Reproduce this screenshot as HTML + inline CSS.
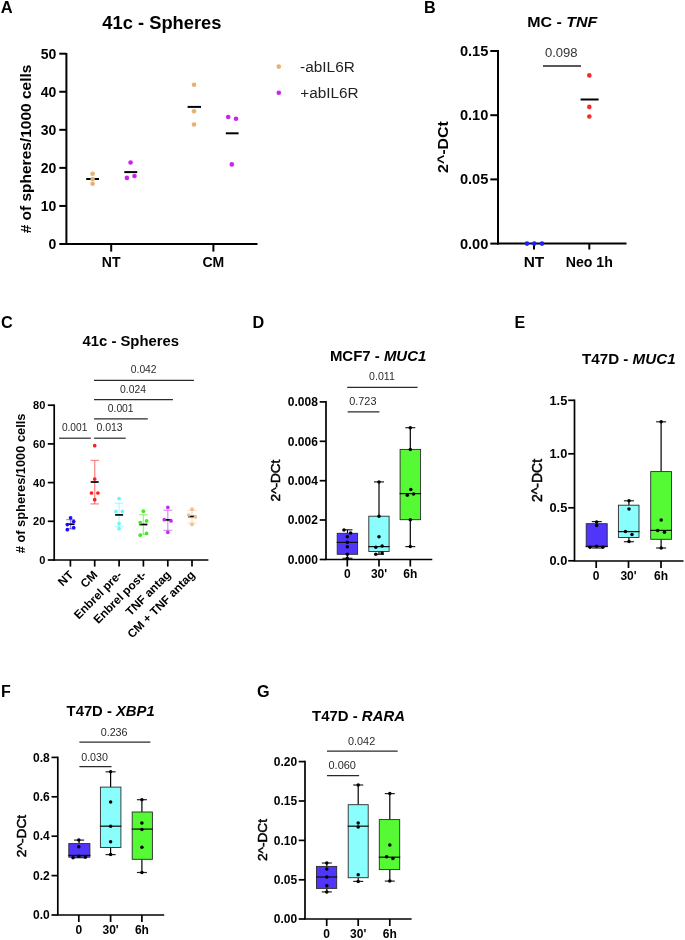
<!DOCTYPE html>
<html><head><meta charset="utf-8"><style>
html,body{margin:0;padding:0;background:#fff;}
body{width:685px;height:940px;overflow:hidden;}
svg{display:block;font-family:"Liberation Sans",sans-serif;will-change:transform;}
</style></head><body>
<svg width="685" height="940" viewBox="0 0 685 940">
<rect width="685" height="940" fill="#fff"/>
<text x="0.7" y="12.6" font-size="16.5" font-weight="bold">A</text>
<text x="102.3" y="29.2" font-size="17.5" font-weight="bold" textLength="119.2" lengthAdjust="spacingAndGlyphs">41c - Spheres</text>
<line x1="66.4" y1="53" x2="66.4" y2="245" stroke="#000" stroke-width="2.0"/>
<line x1="59.3" y1="53.7" x2="66.4" y2="53.7" stroke="#000" stroke-width="2.0"/>
<text x="56.4" y="58.6" font-size="14" font-weight="bold" text-anchor="end">50</text>
<line x1="59.3" y1="91.76" x2="66.4" y2="91.76" stroke="#000" stroke-width="2.0"/>
<text x="56.4" y="96.66" font-size="14" font-weight="bold" text-anchor="end">40</text>
<line x1="59.3" y1="129.82" x2="66.4" y2="129.82" stroke="#000" stroke-width="2.0"/>
<text x="56.4" y="134.72" font-size="14" font-weight="bold" text-anchor="end">30</text>
<line x1="59.3" y1="167.88" x2="66.4" y2="167.88" stroke="#000" stroke-width="2.0"/>
<text x="56.4" y="172.78" font-size="14" font-weight="bold" text-anchor="end">20</text>
<line x1="59.3" y1="205.94" x2="66.4" y2="205.94" stroke="#000" stroke-width="2.0"/>
<text x="56.4" y="210.84" font-size="14" font-weight="bold" text-anchor="end">10</text>
<line x1="59.3" y1="244" x2="66.4" y2="244" stroke="#000" stroke-width="2.0"/>
<text x="56.4" y="248.9" font-size="14" font-weight="bold" text-anchor="end">0</text>
<line x1="65.4" y1="244" x2="257.5" y2="244" stroke="#000" stroke-width="2.0"/>
<line x1="111.2" y1="244" x2="111.2" y2="251.6" stroke="#000" stroke-width="2.0"/>
<text x="111.2" y="267.2" font-size="14" font-weight="bold" text-anchor="middle">NT</text>
<line x1="213.4" y1="244" x2="213.4" y2="251.6" stroke="#000" stroke-width="2.0"/>
<text x="213.4" y="267.2" font-size="14" font-weight="bold" text-anchor="middle">CM</text>
<text x="31.3" y="149" font-size="15.5" font-weight="bold" text-anchor="middle" textLength="168.7" lengthAdjust="spacingAndGlyphs" transform="rotate(-90 31.3 149)"># of spheres/1000 cells</text>
<line x1="86.2" y1="179" x2="99" y2="179" stroke="#000" stroke-width="2"/>
<circle cx="92.6" cy="173.8" r="2.3" fill="#E8B072"/>
<circle cx="92.6" cy="179.1" r="2.3" fill="#E8B072"/>
<circle cx="92.6" cy="183.8" r="2.3" fill="#E8B072"/>
<circle cx="130.6" cy="162.5" r="2.3" fill="#CC22EE"/>
<circle cx="126.9" cy="177.9" r="2.3" fill="#CC22EE"/>
<circle cx="134.5" cy="176" r="2.3" fill="#CC22EE"/>
<line x1="124.3" y1="172.1" x2="137.2" y2="172.1" stroke="#000" stroke-width="2"/>
<line x1="187.6" y1="106.9" x2="201" y2="106.9" stroke="#000" stroke-width="2"/>
<circle cx="194" cy="84.7" r="2.3" fill="#E8B072"/>
<circle cx="194" cy="111.2" r="2.3" fill="#E8B072"/>
<circle cx="194" cy="124.5" r="2.3" fill="#E8B072"/>
<circle cx="228.2" cy="117" r="2.3" fill="#CC22EE"/>
<circle cx="236" cy="118.8" r="2.3" fill="#CC22EE"/>
<circle cx="231.8" cy="164.4" r="2.3" fill="#CC22EE"/>
<line x1="225.8" y1="133.3" x2="238.6" y2="133.3" stroke="#000" stroke-width="2"/>
<circle cx="278.8" cy="66.6" r="2.3" fill="#E8B072"/>
<circle cx="278.8" cy="92.7" r="2.3" fill="#CC22EE"/>
<text x="300.1" y="71.7" font-size="14" fill="#222" textLength="54.7" lengthAdjust="spacingAndGlyphs">-abIL6R</text>
<text x="300.3" y="97.6" font-size="14" fill="#222" textLength="58.4" lengthAdjust="spacingAndGlyphs">+abIL6R</text>
<text x="423.9" y="12.6" font-size="16.2" font-weight="bold">B</text>
<text x="527.2" y="27" font-size="15" font-weight="bold" textLength="70" lengthAdjust="spacingAndGlyphs">MC - <tspan font-style="italic">TNF</tspan></text>
<line x1="498" y1="50" x2="498" y2="244.6" stroke="#000" stroke-width="2.0"/>
<line x1="490.3" y1="51" x2="498" y2="51" stroke="#000" stroke-width="2.0"/>
<text x="488.3" y="56" font-size="14.6" font-weight="bold" text-anchor="end">0.15</text>
<line x1="490.3" y1="115.2" x2="498" y2="115.2" stroke="#000" stroke-width="2.0"/>
<text x="488.3" y="120.2" font-size="14.6" font-weight="bold" text-anchor="end">0.10</text>
<line x1="490.3" y1="179.4" x2="498" y2="179.4" stroke="#000" stroke-width="2.0"/>
<text x="488.3" y="184.4" font-size="14.6" font-weight="bold" text-anchor="end">0.05</text>
<line x1="490.3" y1="243.6" x2="498" y2="243.6" stroke="#000" stroke-width="2.0"/>
<text x="488.3" y="248.6" font-size="14.6" font-weight="bold" text-anchor="end">0.00</text>
<line x1="497" y1="243.6" x2="626.5" y2="243.6" stroke="#000" stroke-width="2.0"/>
<line x1="534" y1="243.6" x2="534" y2="249.5" stroke="#000" stroke-width="2.0"/>
<text x="523.7" y="266.7" font-size="14" font-weight="bold" textLength="20.6" lengthAdjust="spacingAndGlyphs">NT</text>
<line x1="589.3" y1="243.6" x2="589.3" y2="249.5" stroke="#000" stroke-width="2.0"/>
<text x="565.7" y="266.7" font-size="14" font-weight="bold" textLength="47.2" lengthAdjust="spacingAndGlyphs">Neo 1h</text>
<text x="448.3" y="147" font-size="15.5" font-weight="bold" text-anchor="middle" textLength="51.9" lengthAdjust="spacingAndGlyphs" transform="rotate(-90 448.3 147)">2^-DCt</text>
<circle cx="527" cy="243.6" r="2.3" fill="#2020F5"/>
<circle cx="534.3" cy="243.6" r="2.3" fill="#2020F5"/>
<circle cx="542" cy="243.6" r="2.3" fill="#2020F5"/>
<circle cx="589.3" cy="75.4" r="2.3" fill="#FA2A2A"/>
<circle cx="589.3" cy="106.9" r="2.3" fill="#FA2A2A"/>
<circle cx="589.3" cy="116.5" r="2.3" fill="#FA2A2A"/>
<line x1="580.6" y1="99.5" x2="598.6" y2="99.5" stroke="#000" stroke-width="2"/>
<line x1="543" y1="66" x2="581" y2="66" stroke="#222" stroke-width="1.3"/>
<text x="544.9" y="57.2" font-size="13" fill="#333" textLength="32.7" lengthAdjust="spacingAndGlyphs">0.098</text>
<text x="0.9" y="327.5" font-size="16.2" font-weight="bold">C</text>
<text x="82.5" y="345.9" font-size="14.5" font-weight="bold" textLength="96.5" lengthAdjust="spacingAndGlyphs">41c - Spheres</text>
<line x1="54.2" y1="404.4" x2="54.2" y2="560.8" stroke="#000" stroke-width="1.7"/>
<line x1="47.8" y1="405.2" x2="54.1" y2="405.2" stroke="#000" stroke-width="1.7"/>
<text x="45.3" y="409.1" font-size="11" font-weight="bold" text-anchor="end">80</text>
<line x1="47.8" y1="443.9" x2="54.1" y2="443.9" stroke="#000" stroke-width="1.7"/>
<text x="45.3" y="447.8" font-size="11" font-weight="bold" text-anchor="end">60</text>
<line x1="47.8" y1="482.6" x2="54.1" y2="482.6" stroke="#000" stroke-width="1.7"/>
<text x="45.3" y="486.5" font-size="11" font-weight="bold" text-anchor="end">40</text>
<line x1="47.8" y1="521.3" x2="54.1" y2="521.3" stroke="#000" stroke-width="1.7"/>
<text x="45.3" y="525.2" font-size="11" font-weight="bold" text-anchor="end">20</text>
<line x1="47.8" y1="560" x2="54.1" y2="560" stroke="#000" stroke-width="1.7"/>
<text x="45.3" y="563.9" font-size="11" font-weight="bold" text-anchor="end">0</text>
<line x1="53.4" y1="560" x2="208.4" y2="560" stroke="#000" stroke-width="1.7"/>
<line x1="70.4" y1="560" x2="70.4" y2="566.6" stroke="#000" stroke-width="1.7"/>
<text x="74" y="575.6" font-size="11.8" font-weight="bold" text-anchor="end" transform="rotate(-45 74 575.6)">NT</text>
<line x1="94.7" y1="560" x2="94.7" y2="566.6" stroke="#000" stroke-width="1.7"/>
<text x="98.3" y="575.6" font-size="11.8" font-weight="bold" text-anchor="end" transform="rotate(-45 98.3 575.6)">CM</text>
<line x1="119.1" y1="560" x2="119.1" y2="566.6" stroke="#000" stroke-width="1.7"/>
<text x="122.7" y="575.6" font-size="11.8" font-weight="bold" text-anchor="end" transform="rotate(-45 122.7 575.6)">Enbrel pre-</text>
<line x1="143.4" y1="560" x2="143.4" y2="566.6" stroke="#000" stroke-width="1.7"/>
<text x="147" y="575.6" font-size="11.8" font-weight="bold" text-anchor="end" transform="rotate(-45 147 575.6)">Enbrel post-</text>
<line x1="167.8" y1="560" x2="167.8" y2="566.6" stroke="#000" stroke-width="1.7"/>
<text x="171.4" y="575.6" font-size="11.8" font-weight="bold" text-anchor="end" transform="rotate(-45 171.4 575.6)">TNF antag</text>
<line x1="192" y1="560" x2="192" y2="566.6" stroke="#000" stroke-width="1.7"/>
<text x="195.6" y="575.6" font-size="11.8" font-weight="bold" text-anchor="end" transform="rotate(-45 195.6 575.6)">CM + TNF antag</text>
<text x="25" y="483.4" font-size="12.8" font-weight="bold" text-anchor="middle" textLength="139.7" lengthAdjust="spacingAndGlyphs" transform="rotate(-90 25 483.4)"># of spheres/1000 cells</text>
<text x="130.8" y="373.1" font-size="10.3" fill="#2a2a2a" textLength="25.8" lengthAdjust="spacingAndGlyphs">0.042</text>
<line x1="94" y1="380.4" x2="193.9" y2="380.4" stroke="#2a2a2a" stroke-width="1.2"/>
<text x="120" y="392.5" font-size="10.3" fill="#2a2a2a" textLength="25.9" lengthAdjust="spacingAndGlyphs">0.024</text>
<line x1="94" y1="399.7" x2="172.9" y2="399.7" stroke="#2a2a2a" stroke-width="1.2"/>
<text x="107.8" y="411.9" font-size="10.3" fill="#2a2a2a" textLength="25.8" lengthAdjust="spacingAndGlyphs">0.001</text>
<line x1="94.1" y1="418.9" x2="147.8" y2="418.9" stroke="#2a2a2a" stroke-width="1.2"/>
<text x="61.9" y="431.2" font-size="10.3" fill="#2a2a2a" textLength="25.4" lengthAdjust="spacingAndGlyphs">0.001</text>
<line x1="59.1" y1="438.2" x2="90.8" y2="438.2" stroke="#2a2a2a" stroke-width="1.2"/>
<text x="96.4" y="431.2" font-size="10.3" fill="#2a2a2a" textLength="26.3" lengthAdjust="spacingAndGlyphs">0.013</text>
<line x1="94.1" y1="438.2" x2="125.7" y2="438.2" stroke="#2a2a2a" stroke-width="1.2"/>
<line x1="70.6" y1="519.6" x2="70.6" y2="528.8" stroke="#1E10F5" stroke-width="1.3" stroke-opacity="0.5"/>
<line x1="66.3" y1="519.6" x2="74.9" y2="519.6" stroke="#1E10F5" stroke-width="1.3" stroke-opacity="0.5"/>
<line x1="66.3" y1="528.8" x2="74.9" y2="528.8" stroke="#1E10F5" stroke-width="1.3" stroke-opacity="0.5"/>
<line x1="66.6" y1="524.2" x2="74.6" y2="524.2" stroke="#000" stroke-width="1.7"/>
<circle cx="70.6" cy="517.8" r="1.85" fill="#1E10F5"/>
<circle cx="73.7" cy="521.5" r="1.85" fill="#1E10F5"/>
<circle cx="67.3" cy="524.6" r="1.85" fill="#1E10F5"/>
<circle cx="73.7" cy="527.7" r="1.85" fill="#1E10F5"/>
<circle cx="67.3" cy="529.7" r="1.85" fill="#1E10F5"/>
<line x1="94.7" y1="460.4" x2="94.7" y2="503.9" stroke="#FA1E1E" stroke-width="1.3" stroke-opacity="0.5"/>
<line x1="90.4" y1="460.4" x2="99" y2="460.4" stroke="#FA1E1E" stroke-width="1.3" stroke-opacity="0.5"/>
<line x1="90.4" y1="503.9" x2="99" y2="503.9" stroke="#FA1E1E" stroke-width="1.3" stroke-opacity="0.5"/>
<line x1="90.7" y1="482" x2="98.7" y2="482" stroke="#000" stroke-width="1.7"/>
<circle cx="94.7" cy="445.7" r="1.85" fill="#FA1E1E"/>
<circle cx="94.7" cy="479" r="1.85" fill="#FA1E1E"/>
<circle cx="91.5" cy="493" r="1.85" fill="#FA1E1E"/>
<circle cx="97.9" cy="493" r="1.85" fill="#FA1E1E"/>
<circle cx="94.7" cy="499.7" r="1.85" fill="#FA1E1E"/>
<line x1="119.1" y1="503.2" x2="119.1" y2="526.6" stroke="#6EF5F5" stroke-width="1.3" stroke-opacity="0.5"/>
<line x1="114.8" y1="503.2" x2="123.4" y2="503.2" stroke="#6EF5F5" stroke-width="1.3" stroke-opacity="0.5"/>
<line x1="114.8" y1="526.6" x2="123.4" y2="526.6" stroke="#6EF5F5" stroke-width="1.3" stroke-opacity="0.5"/>
<line x1="115.1" y1="514.9" x2="123.1" y2="514.9" stroke="#000" stroke-width="1.7"/>
<circle cx="119.1" cy="498.6" r="1.85" fill="#6EF5F5"/>
<circle cx="116" cy="511.4" r="1.85" fill="#6EF5F5"/>
<circle cx="122.4" cy="511.4" r="1.85" fill="#6EF5F5"/>
<circle cx="119.1" cy="523.7" r="1.85" fill="#6EF5F5"/>
<circle cx="119.1" cy="528.7" r="1.85" fill="#6EF5F5"/>
<line x1="143.4" y1="514.7" x2="143.4" y2="534.3" stroke="#3AEE1A" stroke-width="1.3" stroke-opacity="0.5"/>
<line x1="139.1" y1="514.7" x2="147.7" y2="514.7" stroke="#3AEE1A" stroke-width="1.3" stroke-opacity="0.5"/>
<line x1="139.1" y1="534.3" x2="147.7" y2="534.3" stroke="#3AEE1A" stroke-width="1.3" stroke-opacity="0.5"/>
<line x1="139.4" y1="524.5" x2="147.4" y2="524.5" stroke="#000" stroke-width="1.7"/>
<circle cx="143.4" cy="511.2" r="1.85" fill="#3AEE1A"/>
<circle cx="140.2" cy="522.6" r="1.85" fill="#3AEE1A"/>
<circle cx="146.6" cy="520.9" r="1.85" fill="#3AEE1A"/>
<circle cx="140.2" cy="535.2" r="1.85" fill="#3AEE1A"/>
<circle cx="146.6" cy="533.4" r="1.85" fill="#3AEE1A"/>
<line x1="167.8" y1="510.2" x2="167.8" y2="530.4" stroke="#C22EF2" stroke-width="1.3" stroke-opacity="0.5"/>
<line x1="163.5" y1="510.2" x2="172.1" y2="510.2" stroke="#C22EF2" stroke-width="1.3" stroke-opacity="0.5"/>
<line x1="163.5" y1="530.4" x2="172.1" y2="530.4" stroke="#C22EF2" stroke-width="1.3" stroke-opacity="0.5"/>
<line x1="163.8" y1="519.9" x2="171.8" y2="519.9" stroke="#000" stroke-width="1.7"/>
<circle cx="167.8" cy="507.3" r="1.85" fill="#C22EF2"/>
<circle cx="164.3" cy="519.7" r="1.85" fill="#C22EF2"/>
<circle cx="171" cy="520.9" r="1.85" fill="#C22EF2"/>
<circle cx="167.8" cy="532.3" r="1.85" fill="#C22EF2"/>
<line x1="192" y1="510.4" x2="192" y2="523.1" stroke="#F0C088" stroke-width="1.3" stroke-opacity="0.5"/>
<line x1="187.7" y1="510.4" x2="196.3" y2="510.4" stroke="#F0C088" stroke-width="1.3" stroke-opacity="0.5"/>
<line x1="187.7" y1="523.1" x2="196.3" y2="523.1" stroke="#F0C088" stroke-width="1.3" stroke-opacity="0.5"/>
<line x1="188" y1="516.5" x2="196" y2="516.5" stroke="#000" stroke-width="1.7"/>
<circle cx="192" cy="509.2" r="1.85" fill="#F0C088"/>
<circle cx="188.8" cy="515" r="1.85" fill="#F0C088"/>
<circle cx="195.4" cy="517" r="1.85" fill="#F0C088"/>
<circle cx="192" cy="524.5" r="1.85" fill="#F0C088"/>
<text x="252.5" y="328" font-size="16.2" font-weight="bold">D</text>
<text x="329.9" y="361" font-size="14.5" font-weight="bold" textLength="96.4" lengthAdjust="spacingAndGlyphs">MCF7 - <tspan font-style="italic">MUC1</tspan></text>
<text x="369.1" y="380.3" font-size="10.3" fill="#2a2a2a" textLength="25.7" lengthAdjust="spacingAndGlyphs">0.011</text>
<line x1="347.2" y1="387.3" x2="417.6" y2="387.3" stroke="#2a2a2a" stroke-width="1.2"/>
<text x="349.2" y="404.7" font-size="10.3" fill="#2a2a2a" textLength="27.3" lengthAdjust="spacingAndGlyphs">0.723</text>
<line x1="347.6" y1="411.8" x2="379.4" y2="411.8" stroke="#2a2a2a" stroke-width="1.2"/>
<line x1="326" y1="401.1" x2="326" y2="559.7" stroke="#000" stroke-width="1.7"/>
<line x1="319.7" y1="401.9" x2="326" y2="401.9" stroke="#000" stroke-width="1.7"/>
<text x="317.9" y="406.1" font-size="12" font-weight="bold" text-anchor="end">0.008</text>
<line x1="319.7" y1="441.3" x2="326" y2="441.3" stroke="#000" stroke-width="1.7"/>
<text x="317.9" y="445.5" font-size="12" font-weight="bold" text-anchor="end">0.006</text>
<line x1="319.7" y1="480.7" x2="326" y2="480.7" stroke="#000" stroke-width="1.7"/>
<text x="317.9" y="484.9" font-size="12" font-weight="bold" text-anchor="end">0.004</text>
<line x1="319.7" y1="520" x2="326" y2="520" stroke="#000" stroke-width="1.7"/>
<text x="317.9" y="524.2" font-size="12" font-weight="bold" text-anchor="end">0.002</text>
<line x1="319.7" y1="559.5" x2="326" y2="559.5" stroke="#000" stroke-width="1.7"/>
<text x="317.9" y="563.7" font-size="12" font-weight="bold" text-anchor="end">0.000</text>
<line x1="325.2" y1="559.5" x2="432.3" y2="559.5" stroke="#000" stroke-width="1.7"/>
<line x1="347.3" y1="559.5" x2="347.3" y2="566.5" stroke="#000" stroke-width="1.7"/>
<text x="347.3" y="578.4" font-size="12" font-weight="bold" text-anchor="middle">0</text>
<line x1="379" y1="559.5" x2="379" y2="566.5" stroke="#000" stroke-width="1.7"/>
<text x="379" y="578.4" font-size="12" font-weight="bold" text-anchor="middle">30'</text>
<line x1="410.3" y1="559.5" x2="410.3" y2="566.5" stroke="#000" stroke-width="1.7"/>
<text x="410.3" y="578.4" font-size="12" font-weight="bold" text-anchor="middle">6h</text>
<text x="280.1" y="480.5" font-size="13.5" text-anchor="middle" textLength="41.8" lengthAdjust="spacingAndGlyphs" transform="rotate(-90 280.1 480.5)" stroke="#000" stroke-width="0.5">2^-DCt</text>
<line x1="347.5" y1="529.8" x2="347.5" y2="533.3" stroke="#000" stroke-width="1.2"/>
<line x1="347.5" y1="554.3" x2="347.5" y2="558.3" stroke="#000" stroke-width="1.2"/>
<line x1="342.5" y1="529.8" x2="352.5" y2="529.8" stroke="#222" stroke-width="1.2"/>
<line x1="342.5" y1="558.3" x2="352.5" y2="558.3" stroke="#222" stroke-width="1.2"/>
<rect x="337.2" y="533.3" width="20.4" height="21" fill="#5035FA" stroke="#2a2a2a" stroke-width="0.9"/>
<line x1="336.7" y1="542.4" x2="358.1" y2="542.4" stroke="#111" stroke-width="1.25"/>
<circle cx="344.0" cy="530.0" r="1.75" fill="#000"/>
<circle cx="350.6" cy="532.9" r="1.75" fill="#000"/>
<circle cx="347.3" cy="536.8" r="1.75" fill="#000"/>
<circle cx="347.3" cy="542.2" r="1.75" fill="#000"/>
<circle cx="347.3" cy="546.8" r="1.75" fill="#000"/>
<circle cx="347.3" cy="554.3" r="1.75" fill="#000"/>
<circle cx="347.3" cy="558.3" r="1.75" fill="#000"/>
<line x1="379" y1="481.9" x2="379" y2="516.2" stroke="#000" stroke-width="1.2"/>
<line x1="379" y1="551.5" x2="379" y2="554.3" stroke="#000" stroke-width="1.2"/>
<line x1="374" y1="481.9" x2="384" y2="481.9" stroke="#222" stroke-width="1.2"/>
<line x1="374" y1="554.3" x2="384" y2="554.3" stroke="#222" stroke-width="1.2"/>
<rect x="368.8" y="516.2" width="20.3" height="35.3" fill="#8AFDFD" stroke="#2a2a2a" stroke-width="0.9"/>
<line x1="368.3" y1="546.6" x2="389.6" y2="546.6" stroke="#111" stroke-width="1.25"/>
<circle cx="379" cy="481.9" r="1.75" fill="#000"/>
<circle cx="379" cy="516.2" r="1.75" fill="#000"/>
<circle cx="379" cy="536.8" r="1.75" fill="#000"/>
<circle cx="375.8" cy="547.3" r="1.75" fill="#000"/>
<circle cx="382.1" cy="546.1" r="1.75" fill="#000"/>
<circle cx="375.8" cy="554.3" r="1.75" fill="#000"/>
<circle cx="382.1" cy="553.1" r="1.75" fill="#000"/>
<line x1="410.3" y1="427.7" x2="410.3" y2="449.4" stroke="#000" stroke-width="1.2"/>
<line x1="410.3" y1="519.7" x2="410.3" y2="546.6" stroke="#000" stroke-width="1.2"/>
<line x1="405.3" y1="427.7" x2="415.3" y2="427.7" stroke="#222" stroke-width="1.2"/>
<line x1="405.3" y1="546.6" x2="415.3" y2="546.6" stroke="#222" stroke-width="1.2"/>
<rect x="400.1" y="449.4" width="20.5" height="70.3" fill="#55FA35" stroke="#2a2a2a" stroke-width="0.9"/>
<line x1="399.6" y1="493.6" x2="421.1" y2="493.6" stroke="#111" stroke-width="1.25"/>
<circle cx="410.3" cy="427.7" r="1.75" fill="#000"/>
<circle cx="410.3" cy="449.4" r="1.75" fill="#000"/>
<circle cx="410.8" cy="489.6" r="1.75" fill="#000"/>
<circle cx="407.3" cy="495.2" r="1.75" fill="#000"/>
<circle cx="413.6" cy="494" r="1.75" fill="#000"/>
<circle cx="410.3" cy="519.7" r="1.75" fill="#000"/>
<circle cx="410.3" cy="546.6" r="1.75" fill="#000"/>
<text x="514.6" y="327.6" font-size="16" font-weight="bold">E</text>
<text x="582" y="364.3" font-size="14.5" font-weight="bold" textLength="93.6" lengthAdjust="spacingAndGlyphs">T47D - <tspan font-style="italic">MUC1</tspan></text>
<line x1="574.5" y1="399.5" x2="574.5" y2="561" stroke="#000" stroke-width="1.7"/>
<line x1="568.2" y1="400.3" x2="574.5" y2="400.3" stroke="#000" stroke-width="1.7"/>
<text x="567.3" y="404.78" font-size="12.8" font-weight="bold" text-anchor="end">1.5</text>
<line x1="568.2" y1="453.8" x2="574.5" y2="453.8" stroke="#000" stroke-width="1.7"/>
<text x="567.3" y="458.28" font-size="12.8" font-weight="bold" text-anchor="end">1.0</text>
<line x1="568.2" y1="507.8" x2="574.5" y2="507.8" stroke="#000" stroke-width="1.7"/>
<text x="567.3" y="512.28" font-size="12.8" font-weight="bold" text-anchor="end">0.5</text>
<line x1="568.2" y1="560.8" x2="574.5" y2="560.8" stroke="#000" stroke-width="1.7"/>
<text x="567.3" y="565.28" font-size="12.8" font-weight="bold" text-anchor="end">0.0</text>
<line x1="573.7" y1="561" x2="683.5" y2="561" stroke="#000" stroke-width="1.7"/>
<line x1="596.2" y1="561" x2="596.2" y2="568" stroke="#000" stroke-width="1.7"/>
<text x="596.2" y="579.8" font-size="12" font-weight="bold" text-anchor="middle">0</text>
<line x1="628.5" y1="561" x2="628.5" y2="568" stroke="#000" stroke-width="1.7"/>
<text x="628.5" y="579.8" font-size="12" font-weight="bold" text-anchor="middle">30'</text>
<line x1="661" y1="561" x2="661" y2="568" stroke="#000" stroke-width="1.7"/>
<text x="661" y="579.8" font-size="12" font-weight="bold" text-anchor="middle">6h</text>
<text x="541.8" y="480.5" font-size="14" text-anchor="middle" textLength="43.1" lengthAdjust="spacingAndGlyphs" transform="rotate(-90 541.8 480.5)" stroke="#000" stroke-width="0.5">2^-DCt</text>
<line x1="596.8" y1="521.6" x2="596.8" y2="523.7" stroke="#000" stroke-width="1.2"/>
<line x1="596.8" y1="546.8" x2="596.8" y2="548" stroke="#000" stroke-width="1.2"/>
<line x1="591.8" y1="521.6" x2="601.8" y2="521.6" stroke="#222" stroke-width="1.2"/>
<line x1="591.8" y1="548" x2="601.8" y2="548" stroke="#222" stroke-width="1.2"/>
<rect x="586.2" y="523.7" width="21" height="23.1" fill="#5035FA" stroke="#2a2a2a" stroke-width="0.9"/>
<line x1="585.7" y1="546.3" x2="607.7" y2="546.3" stroke="#111" stroke-width="1.25"/>
<circle cx="596.6" cy="522" r="1.75" fill="#000"/>
<circle cx="596.6" cy="525.4" r="1.75" fill="#000"/>
<circle cx="590" cy="547.2" r="1.75" fill="#000"/>
<circle cx="596.6" cy="546.2" r="1.75" fill="#000"/>
<circle cx="602.8" cy="547.2" r="1.75" fill="#000"/>
<line x1="628.9" y1="500.8" x2="628.9" y2="505.2" stroke="#000" stroke-width="1.2"/>
<line x1="628.9" y1="537.5" x2="628.9" y2="541.7" stroke="#000" stroke-width="1.2"/>
<line x1="623.9" y1="500.8" x2="633.9" y2="500.8" stroke="#222" stroke-width="1.2"/>
<line x1="623.9" y1="541.7" x2="633.9" y2="541.7" stroke="#222" stroke-width="1.2"/>
<rect x="618.4" y="505.2" width="20.6" height="32.3" fill="#8AFDFD" stroke="#2a2a2a" stroke-width="0.9"/>
<line x1="617.9" y1="531.6" x2="639.5" y2="531.6" stroke="#111" stroke-width="1.25"/>
<circle cx="629" cy="500.8" r="1.75" fill="#000"/>
<circle cx="629" cy="509" r="1.75" fill="#000"/>
<circle cx="625.5" cy="531.5" r="1.75" fill="#000"/>
<circle cx="632" cy="534.4" r="1.75" fill="#000"/>
<circle cx="629" cy="541.6" r="1.75" fill="#000"/>
<line x1="661.1" y1="421.8" x2="661.1" y2="471.6" stroke="#000" stroke-width="1.2"/>
<line x1="661.1" y1="539.3" x2="661.1" y2="548" stroke="#000" stroke-width="1.2"/>
<line x1="656.1" y1="421.8" x2="666.1" y2="421.8" stroke="#222" stroke-width="1.2"/>
<line x1="656.1" y1="548" x2="666.1" y2="548" stroke="#222" stroke-width="1.2"/>
<rect x="650.7" y="471.6" width="20.8" height="67.7" fill="#55FA35" stroke="#2a2a2a" stroke-width="0.9"/>
<line x1="650.2" y1="530.4" x2="672" y2="530.4" stroke="#111" stroke-width="1.25"/>
<circle cx="661.2" cy="421.8" r="1.75" fill="#000"/>
<circle cx="661.2" cy="519.9" r="1.75" fill="#000"/>
<circle cx="657.7" cy="530.4" r="1.75" fill="#000"/>
<circle cx="664.5" cy="532.3" r="1.75" fill="#000"/>
<circle cx="661.2" cy="548" r="1.75" fill="#000"/>
<text x="0.9" y="696.9" font-size="16" font-weight="bold">F</text>
<text x="66.6" y="716.1" font-size="14.5" font-weight="bold" textLength="88.1" lengthAdjust="spacingAndGlyphs">T47D - <tspan font-style="italic">XBP1</tspan></text>
<text x="100.7" y="735.7" font-size="10.3" fill="#2a2a2a" textLength="26.9" lengthAdjust="spacingAndGlyphs">0.236</text>
<line x1="79.4" y1="742.1" x2="150.4" y2="742.1" stroke="#2a2a2a" stroke-width="1.2"/>
<text x="81.2" y="760.5" font-size="10.3" fill="#2a2a2a" textLength="26.8" lengthAdjust="spacingAndGlyphs">0.030</text>
<line x1="79.4" y1="766.6" x2="111.5" y2="766.6" stroke="#2a2a2a" stroke-width="1.2"/>
<line x1="57.8" y1="756.6" x2="57.8" y2="915.2" stroke="#000" stroke-width="1.7"/>
<line x1="51.5" y1="757.4" x2="57.8" y2="757.4" stroke="#000" stroke-width="1.7"/>
<text x="49.8" y="761.6" font-size="12" font-weight="bold" text-anchor="end">0.8</text>
<line x1="51.5" y1="796.8" x2="57.8" y2="796.8" stroke="#000" stroke-width="1.7"/>
<text x="49.8" y="801" font-size="12" font-weight="bold" text-anchor="end">0.6</text>
<line x1="51.5" y1="836.2" x2="57.8" y2="836.2" stroke="#000" stroke-width="1.7"/>
<text x="49.8" y="840.4" font-size="12" font-weight="bold" text-anchor="end">0.4</text>
<line x1="51.5" y1="875.6" x2="57.8" y2="875.6" stroke="#000" stroke-width="1.7"/>
<text x="49.8" y="879.8" font-size="12" font-weight="bold" text-anchor="end">0.2</text>
<line x1="51.5" y1="915" x2="57.8" y2="915" stroke="#000" stroke-width="1.7"/>
<text x="49.8" y="919.2" font-size="12" font-weight="bold" text-anchor="end">0.0</text>
<line x1="57" y1="915" x2="164.2" y2="915" stroke="#000" stroke-width="1.7"/>
<line x1="78.8" y1="915" x2="78.8" y2="922" stroke="#000" stroke-width="1.7"/>
<text x="78.8" y="934" font-size="12" font-weight="bold" text-anchor="middle">0</text>
<line x1="110.6" y1="915" x2="110.6" y2="922" stroke="#000" stroke-width="1.7"/>
<text x="110.6" y="934" font-size="12" font-weight="bold" text-anchor="middle">30'</text>
<line x1="141.9" y1="915" x2="141.9" y2="922" stroke="#000" stroke-width="1.7"/>
<text x="141.9" y="934" font-size="12" font-weight="bold" text-anchor="middle">6h</text>
<text x="25.6" y="836" font-size="13.5" text-anchor="middle" textLength="42.4" lengthAdjust="spacingAndGlyphs" transform="rotate(-90 25.6 836)" stroke="#000" stroke-width="0.5">2^-DCt</text>
<line x1="79.1" y1="840.1" x2="79.1" y2="843.6" stroke="#000" stroke-width="1.2"/>
<line x1="79.1" y1="857.2" x2="79.1" y2="857.7" stroke="#000" stroke-width="1.2"/>
<line x1="74.1" y1="840.1" x2="84.1" y2="840.1" stroke="#222" stroke-width="1.2"/>
<line x1="74.1" y1="857.7" x2="84.1" y2="857.7" stroke="#222" stroke-width="1.2"/>
<rect x="68.8" y="843.6" width="21.1" height="13.6" fill="#5035FA" stroke="#2a2a2a" stroke-width="0.9"/>
<line x1="68.3" y1="855.4" x2="90.4" y2="855.4" stroke="#111" stroke-width="1.25"/>
<circle cx="78.8" cy="840.1" r="1.75" fill="#000"/>
<circle cx="78.8" cy="846.7" r="1.75" fill="#000"/>
<circle cx="73" cy="857.7" r="1.75" fill="#000"/>
<circle cx="78.8" cy="856.2" r="1.75" fill="#000"/>
<circle cx="85.4" cy="857.2" r="1.75" fill="#000"/>
<line x1="110.6" y1="771.8" x2="110.6" y2="787.1" stroke="#000" stroke-width="1.2"/>
<line x1="110.6" y1="847.5" x2="110.6" y2="854.6" stroke="#000" stroke-width="1.2"/>
<line x1="105.6" y1="771.8" x2="115.6" y2="771.8" stroke="#222" stroke-width="1.2"/>
<line x1="105.6" y1="854.6" x2="115.6" y2="854.6" stroke="#222" stroke-width="1.2"/>
<rect x="100.4" y="787.1" width="20.5" height="60.4" fill="#8AFDFD" stroke="#2a2a2a" stroke-width="0.9"/>
<line x1="99.9" y1="826.2" x2="121.4" y2="826.2" stroke="#111" stroke-width="1.25"/>
<circle cx="110.6" cy="771.8" r="1.75" fill="#000"/>
<circle cx="110.6" cy="802" r="1.75" fill="#000"/>
<circle cx="110.6" cy="826.2" r="1.75" fill="#000"/>
<circle cx="110.6" cy="841.7" r="1.75" fill="#000"/>
<circle cx="110.6" cy="854.6" r="1.75" fill="#000"/>
<line x1="141.9" y1="799.7" x2="141.9" y2="812" stroke="#000" stroke-width="1.2"/>
<line x1="141.9" y1="859.3" x2="141.9" y2="872.5" stroke="#000" stroke-width="1.2"/>
<line x1="136.9" y1="799.7" x2="146.9" y2="799.7" stroke="#222" stroke-width="1.2"/>
<line x1="136.9" y1="872.5" x2="146.9" y2="872.5" stroke="#222" stroke-width="1.2"/>
<rect x="132.2" y="812" width="20.2" height="47.3" fill="#55FA35" stroke="#2a2a2a" stroke-width="0.9"/>
<line x1="131.7" y1="829.1" x2="152.9" y2="829.1" stroke="#111" stroke-width="1.25"/>
<circle cx="141.9" cy="799.7" r="1.75" fill="#000"/>
<circle cx="141.9" cy="823.1" r="1.75" fill="#000"/>
<circle cx="141.9" cy="829.4" r="1.75" fill="#000"/>
<circle cx="141.9" cy="847.2" r="1.75" fill="#000"/>
<circle cx="141.9" cy="872.5" r="1.75" fill="#000"/>
<text x="257" y="697.4" font-size="16.2" font-weight="bold">G</text>
<text x="312.1" y="720.5" font-size="14.5" font-weight="bold" textLength="92.9" lengthAdjust="spacingAndGlyphs">T47D - <tspan font-style="italic">RARA</tspan></text>
<text x="348" y="744.5" font-size="10.3" fill="#2a2a2a" textLength="27.2" lengthAdjust="spacingAndGlyphs">0.042</text>
<line x1="327" y1="751.2" x2="397.7" y2="751.2" stroke="#2a2a2a" stroke-width="1.2"/>
<text x="328.5" y="769.3" font-size="10.3" fill="#2a2a2a" textLength="27.4" lengthAdjust="spacingAndGlyphs">0.060</text>
<line x1="327" y1="775.7" x2="359.1" y2="775.7" stroke="#2a2a2a" stroke-width="1.2"/>
<line x1="305" y1="760.8" x2="305" y2="919.2" stroke="#000" stroke-width="1.7"/>
<line x1="298.7" y1="761.6" x2="305" y2="761.6" stroke="#000" stroke-width="1.7"/>
<text x="297.1" y="765.8" font-size="12" font-weight="bold" text-anchor="end">0.20</text>
<line x1="298.7" y1="801" x2="305" y2="801" stroke="#000" stroke-width="1.7"/>
<text x="297.1" y="805.2" font-size="12" font-weight="bold" text-anchor="end">0.15</text>
<line x1="298.7" y1="840.4" x2="305" y2="840.4" stroke="#000" stroke-width="1.7"/>
<text x="297.1" y="844.6" font-size="12" font-weight="bold" text-anchor="end">0.10</text>
<line x1="298.7" y1="879.8" x2="305" y2="879.8" stroke="#000" stroke-width="1.7"/>
<text x="297.1" y="884" font-size="12" font-weight="bold" text-anchor="end">0.05</text>
<line x1="298.7" y1="919" x2="305" y2="919" stroke="#000" stroke-width="1.7"/>
<text x="297.1" y="923.2" font-size="12" font-weight="bold" text-anchor="end">0.00</text>
<line x1="304.2" y1="919" x2="411.6" y2="919" stroke="#000" stroke-width="1.7"/>
<line x1="326.7" y1="919" x2="326.7" y2="926" stroke="#000" stroke-width="1.7"/>
<text x="326.7" y="938" font-size="12" font-weight="bold" text-anchor="middle">0</text>
<line x1="358.2" y1="919" x2="358.2" y2="926" stroke="#000" stroke-width="1.7"/>
<text x="358.2" y="938" font-size="12" font-weight="bold" text-anchor="middle">30'</text>
<line x1="389.8" y1="919" x2="389.8" y2="926" stroke="#000" stroke-width="1.7"/>
<text x="389.8" y="938" font-size="12" font-weight="bold" text-anchor="middle">6h</text>
<text x="266.7" y="840" font-size="13.5" text-anchor="middle" textLength="42.1" lengthAdjust="spacingAndGlyphs" transform="rotate(-90 266.7 840)" stroke="#000" stroke-width="0.5">2^-DCt</text>
<line x1="326.8" y1="863" x2="326.8" y2="866.4" stroke="#000" stroke-width="1.2"/>
<line x1="326.8" y1="888.4" x2="326.8" y2="891.9" stroke="#000" stroke-width="1.2"/>
<line x1="321.8" y1="863" x2="331.8" y2="863" stroke="#222" stroke-width="1.2"/>
<line x1="321.8" y1="891.9" x2="331.8" y2="891.9" stroke="#222" stroke-width="1.2"/>
<rect x="316.5" y="866.4" width="20.2" height="22" fill="#5035FA" stroke="#2a2a2a" stroke-width="0.9"/>
<line x1="316" y1="877" x2="337.2" y2="877" stroke="#111" stroke-width="1.25"/>
<circle cx="326.8" cy="863" r="1.75" fill="#000"/>
<circle cx="326.8" cy="869.0" r="1.75" fill="#000"/>
<circle cx="326.8" cy="877.0" r="1.75" fill="#000"/>
<circle cx="326.8" cy="885.7" r="1.75" fill="#000"/>
<circle cx="326.8" cy="891.9" r="1.75" fill="#000"/>
<line x1="358.2" y1="785" x2="358.2" y2="804.7" stroke="#000" stroke-width="1.2"/>
<line x1="358.2" y1="877.7" x2="358.2" y2="881.4" stroke="#000" stroke-width="1.2"/>
<line x1="353.2" y1="785" x2="363.2" y2="785" stroke="#222" stroke-width="1.2"/>
<line x1="353.2" y1="881.4" x2="363.2" y2="881.4" stroke="#222" stroke-width="1.2"/>
<rect x="348.2" y="804.7" width="20" height="73" fill="#8AFDFD" stroke="#2a2a2a" stroke-width="0.9"/>
<line x1="347.7" y1="826.2" x2="368.7" y2="826.2" stroke="#111" stroke-width="1.25"/>
<circle cx="358.2" cy="785" r="1.75" fill="#000"/>
<circle cx="358.2" cy="823.1" r="1.75" fill="#000"/>
<circle cx="358.2" cy="827" r="1.75" fill="#000"/>
<circle cx="358.2" cy="874.8" r="1.75" fill="#000"/>
<circle cx="358.2" cy="881.4" r="1.75" fill="#000"/>
<line x1="389.8" y1="793.6" x2="389.8" y2="819.6" stroke="#000" stroke-width="1.2"/>
<line x1="389.8" y1="869.6" x2="389.8" y2="881.1" stroke="#000" stroke-width="1.2"/>
<line x1="384.8" y1="793.6" x2="394.8" y2="793.6" stroke="#222" stroke-width="1.2"/>
<line x1="384.8" y1="881.1" x2="394.8" y2="881.1" stroke="#222" stroke-width="1.2"/>
<rect x="379.3" y="819.6" width="20.4" height="50" fill="#55FA35" stroke="#2a2a2a" stroke-width="0.9"/>
<line x1="378.8" y1="857.2" x2="400.2" y2="857.2" stroke="#111" stroke-width="1.25"/>
<circle cx="389.8" cy="793.6" r="1.75" fill="#000"/>
<circle cx="389.8" cy="844.9" r="1.75" fill="#000"/>
<circle cx="386.6" cy="856.7" r="1.75" fill="#000"/>
<circle cx="392.9" cy="858.5" r="1.75" fill="#000"/>
<circle cx="389.8" cy="881.1" r="1.75" fill="#000"/>
</svg></body></html>
